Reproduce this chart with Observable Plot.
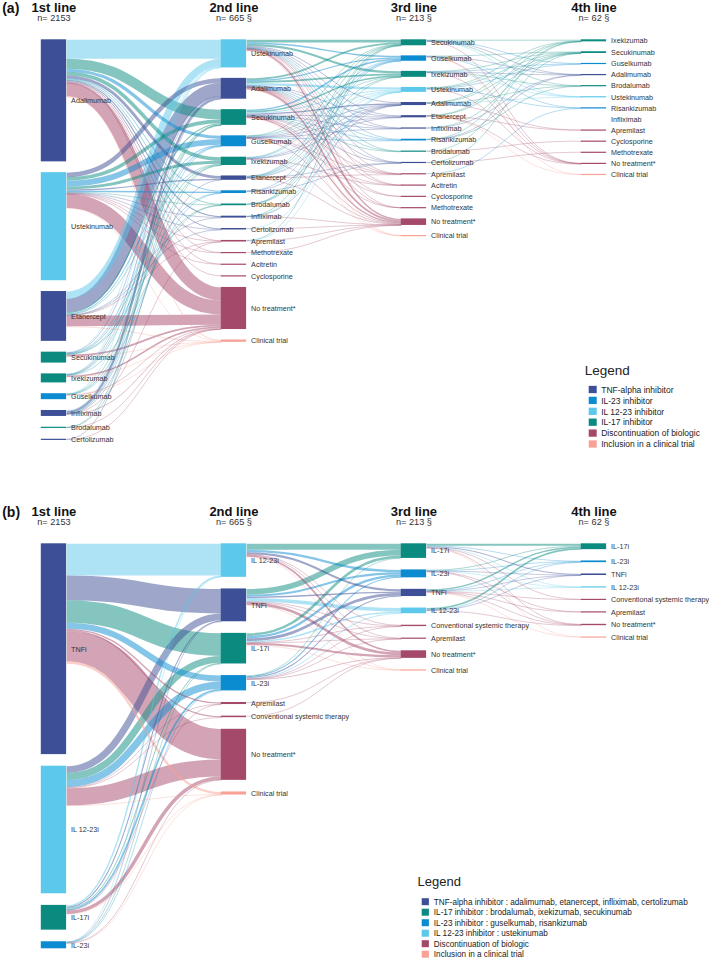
<!DOCTYPE html>
<html><head><meta charset="utf-8">
<script src="https://cdn.jsdelivr.net/npm/d3@7"></script>
<script src="https://cdn.jsdelivr.net/npm/@observablehq/plot@0.6"></script>
<style>html,body{margin:0;padding:0;background:#fff;}</style>
</head><body><div id="chart"></div>
<script>
// ---------- shared text ----------
const colTitles = ["1st line", "2nd line", "3rd line", "4th line"];
const colCounts = ["n= 2153", "n= 665 §", "n= 213 §", "n= 62 §"];
const panelLabels = ["(a)", "(b)"];

// ---------- classes & colours ----------
const classColors = {TNF: "#3d4f96", IL23: "#0b8bd0", IL1223: "#5cc8ec", IL17: "#0b8b80", DISC: "#a5496b", TRIAL: "#f8a295"};
const drugClass = {
  Adalimumab: "TNF", Etanercept: "TNF", Infliximab: "TNF", Certolizumab: "TNF", "TNFi": "TNF",
  Ustekinumab: "IL1223", "IL 12-23i": "IL1223",
  Guselkumab: "IL23", Risankizumab: "IL23", "IL-23i": "IL23",
  Secukinumab: "IL17", Ixekizumab: "IL17", Brodalumab: "IL17", "IL-17i": "IL17",
  "Clinical trial": "TRIAL"
};

// ---------- panel (a): individual drugs ----------
const a_col1 = ["Adalimumab", "Ustekinumab", "Etanercept", "Secukinumab", "Ixekizumab", "Guselkumab", "Infliximab", "Brodalumab", "Certolizumab"];
const a_col1_n = [838, 742, 342, 75, 62, 41, 41, 7, 5];
const a_col2 = ["Ustekinumab", "Adalimumab", "Secukinumab", "Guselkumab", "Ixekizumab", "Etanercept", "Risankizumab", "Brodalumab", "Infliximab", "Certolizumab", "Apremilast", "Methotrexate", "Acitretin", "Cyclosporine", "No treatment*", "Clinical trial"];
const a_col3 = ["Secukinumab", "Guselkumab", "Ixekizumab", "Ustekinumab", "Adalimumab", "Etanercept", "Infliximab", "Risankizumab", "Brodalumab", "Certolizumab", "Apremilast", "Acitretin", "Cyclosporine", "Methotrexate", "No treatment*", "Clinical trial"];
const a_col4 = ["Ixekizumab", "Secukinumab", "Guselkumab", "Adalimumab", "Brodalumab", "Ustekinumab", "Risankizumab", "Infliximab", "Apremilast", "Cyclosporine", "Methotrexate", "No treatment*", "Clinical trial"];

const a_links12 = [
  ["Adalimumab","Ustekinumab",130],["Adalimumab","Secukinumab",68],["Adalimumab","Guselkumab",22],["Adalimumab","Ixekizumab",25],["Adalimumab","Etanercept",20],["Adalimumab","Risankizumab",6],["Adalimumab","Brodalumab",5],["Adalimumab","Infliximab",7],["Adalimumab","Certolizumab",6],["Adalimumab","Apremilast",5],["Adalimumab","Methotrexate",2],["Adalimumab","Acitretin",1],["Adalimumab","Cyclosporine",1],["Adalimumab","No treatment*",90],["Adalimumab","Clinical trial",6],
  ["Ustekinumab","Adalimumab",30],["Ustekinumab","Secukinumab",25],["Ustekinumab","Guselkumab",40],["Ustekinumab","Ixekizumab",20],["Ustekinumab","Etanercept",8],["Ustekinumab","Risankizumab",10],["Ustekinumab","Brodalumab",3],["Ustekinumab","Infliximab",3],["Ustekinumab","Certolizumab",2],["Ustekinumab","Apremilast",3],["Ustekinumab","Methotrexate",2],["Ustekinumab","Acitretin",1],["Ustekinumab","No treatment*",95],["Ustekinumab","Clinical trial",2],
  ["Etanercept","Ustekinumab",50],["Etanercept","Adalimumab",92],["Etanercept","Secukinumab",8],["Etanercept","Guselkumab",6],["Etanercept","Ixekizumab",4],["Etanercept","Infliximab",3],["Etanercept","Certolizumab",2],["Etanercept","Apremilast",2],["Etanercept","No treatment*",72],["Etanercept","Clinical trial",5],
  ["Secukinumab","Ustekinumab",4],["Secukinumab","Adalimumab",2],["Secukinumab","Guselkumab",3],["Secukinumab","Ixekizumab",5],["Secukinumab","Risankizumab",1],["Secukinumab","Brodalumab",2],["Secukinumab","No treatment*",12],["Secukinumab","Clinical trial",1],
  ["Ixekizumab","Ustekinumab",3],["Ixekizumab","Adalimumab",2],["Ixekizumab","Secukinumab",3],["Ixekizumab","Guselkumab",2],["Ixekizumab","Brodalumab",2],["Ixekizumab","No treatment*",10],["Ixekizumab","Clinical trial",1],
  ["Guselkumab","Ustekinumab",2],["Guselkumab","Secukinumab",2],["Guselkumab","Ixekizumab",2],["Guselkumab","Risankizumab",2],["Guselkumab","No treatment*",3],["Guselkumab","Clinical trial",1],
  ["Infliximab","Ustekinumab",4],["Infliximab","Adalimumab",15],["Infliximab","Etanercept",2],["Infliximab","Secukinumab",1],["Infliximab","Guselkumab",2],["Infliximab","Apremilast",1],["Infliximab","No treatment*",5],
  ["Brodalumab","Secukinumab",1],["Brodalumab","Ixekizumab",1],["Brodalumab","No treatment*",1],
  ["Certolizumab","Adalimumab",2],["Certolizumab","No treatment*",1]
];
const a_links23 = [
  ["Ustekinumab","Secukinumab",18],["Ustekinumab","Ixekizumab",15],["Ustekinumab","Brodalumab",2],["Ustekinumab","Guselkumab",10],["Ustekinumab","Risankizumab",4],["Ustekinumab","Adalimumab",5],["Ustekinumab","Etanercept",4],["Ustekinumab","Infliximab",2],["Ustekinumab","Certolizumab",1],["Ustekinumab","Apremilast",2],["Ustekinumab","Acitretin",1],["Ustekinumab","Methotrexate",1],["Ustekinumab","No treatment*",10],["Ustekinumab","Clinical trial",1],
  ["Adalimumab","Secukinumab",12],["Adalimumab","Ixekizumab",12],["Adalimumab","Brodalumab",2],["Adalimumab","Guselkumab",8],["Adalimumab","Risankizumab",3],["Adalimumab","Etanercept",3],["Adalimumab","Infliximab",2],["Adalimumab","Certolizumab",2],["Adalimumab","Ustekinumab",15],["Adalimumab","Apremilast",2],["Adalimumab","Acitretin",1],["Adalimumab","Cyclosporine",1],["Adalimumab","Methotrexate",1],["Adalimumab","No treatment*",12],["Adalimumab","Clinical trial",1],
  ["Secukinumab","Ixekizumab",10],["Secukinumab","Brodalumab",2],["Secukinumab","Guselkumab",10],["Secukinumab","Risankizumab",3],["Secukinumab","Adalimumab",8],["Secukinumab","Etanercept",4],["Secukinumab","Infliximab",2],["Secukinumab","Certolizumab",2],["Secukinumab","Ustekinumab",6],["Secukinumab","Apremilast",1],["Secukinumab","Methotrexate",1],["Secukinumab","Cyclosporine",1],["Secukinumab","No treatment*",8],["Secukinumab","Clinical trial",1],
  ["Guselkumab","Secukinumab",2],["Guselkumab","Ixekizumab",1],["Guselkumab","Risankizumab",2],["Guselkumab","Adalimumab",2],["Guselkumab","Etanercept",2],["Guselkumab","Infliximab",1],["Guselkumab","Ustekinumab",5],["Guselkumab","Apremilast",1],["Guselkumab","Acitretin",1],["Guselkumab","No treatment*",4],
  ["Ixekizumab","Secukinumab",3],["Ixekizumab","Guselkumab",3],["Ixekizumab","Adalimumab",2],["Ixekizumab","Etanercept",2],["Ixekizumab","Ustekinumab",2],["Ixekizumab","Acitretin",1],["Ixekizumab","No treatment*",3],
  ["Etanercept","Secukinumab",3],["Etanercept","Ixekizumab",2],["Etanercept","Guselkumab",2],["Etanercept","Ustekinumab",3],["Etanercept","Adalimumab",2],["Etanercept","Certolizumab",1],["Etanercept","Apremilast",1],["Etanercept","No treatment*",3],
  ["Risankizumab","Guselkumab",3],["Risankizumab","Adalimumab",1],["Risankizumab","Certolizumab",1],
  ["Brodalumab","Secukinumab",1],["Brodalumab","Ixekizumab",1],["Brodalumab","Guselkumab",1],
  ["Infliximab","Secukinumab",1],["Infliximab","Ustekinumab",1],["Infliximab","Adalimumab",1],["Infliximab","No treatment*",1],
  ["Certolizumab","Ustekinumab",1],["Certolizumab","No treatment*",1],
  ["Apremilast","Secukinumab",1],["Apremilast","Ustekinumab",1],["Apremilast","No treatment*",2],
  ["Methotrexate","No treatment*",1]
];
const a_links34 = [
  ["Secukinumab","Ixekizumab",5],["Secukinumab","Guselkumab",2],["Secukinumab","Adalimumab",1],["Secukinumab","Brodalumab",2],["Secukinumab","Ustekinumab",1],["Secukinumab","No treatment*",1],
  ["Guselkumab","Secukinumab",3],["Guselkumab","Risankizumab",2],["Guselkumab","Adalimumab",1],["Guselkumab","Ustekinumab",1],["Guselkumab","No treatment*",1],["Guselkumab","Clinical trial",1],
  ["Ixekizumab","Guselkumab",3],["Ixekizumab","Secukinumab",2],["Ixekizumab","Adalimumab",2],["Ixekizumab","Brodalumab",1],["Ixekizumab","Ustekinumab",1],["Ixekizumab","No treatment*",1],
  ["Ustekinumab","Ixekizumab",4],["Ustekinumab","Guselkumab",3],["Ustekinumab","Secukinumab",2],["Ustekinumab","Risankizumab",1],["Ustekinumab","No treatment*",3],
  ["Adalimumab","Secukinumab",2],["Adalimumab","Ixekizumab",2],["Adalimumab","Ustekinumab",1],["Adalimumab","Brodalumab",1],["Adalimumab","Apremilast",1],
  ["Etanercept","Secukinumab",1],["Etanercept","Ixekizumab",1],["Etanercept","Apremilast",1],["Etanercept","No treatment*",1],["Etanercept","Clinical trial",1],
  ["Infliximab","Secukinumab",1],["Infliximab","Adalimumab",1],
  ["Risankizumab","Ixekizumab",1],["Risankizumab","Adalimumab",1],["Risankizumab","Brodalumab",1],
  ["Brodalumab","Ixekizumab",1],["Brodalumab","Cyclosporine",1],
  ["Certolizumab","Secukinumab",1],["Certolizumab","Methotrexate",1],
  ["Apremilast","Risankizumab",1]
];

// ---------- panel (b): drug classes ----------
const b_col1 = ["TNFi", "IL 12-23i", "IL-17i", "IL-23i"];
const b_col1_n = [1226, 742, 144, 41];
const b_col2 = ["IL 12-23i", "TNFi", "IL-17i", "IL-23i", "Apremilast", "Conventional systemic therapy", "No treatment*", "Clinical trial"];
const b_col3 = ["IL-17i", "IL-23i", "TNFi", "IL 12-23i", "Conventional systemic therapy", "Apremilast", "No treatment*", "Clinical trial"];
const b_col4 = ["IL-17i", "IL-23i", "TNFi", "IL 12-23i", "Conventional systemic therapy", "Apremilast", "No treatment*", "Clinical trial"];

const b_links12 = [
  ["TNFi","IL 12-23i",185],["TNFi","TNFi",143],["TNFi","IL-17i",131],["TNFi","IL-23i",35],["TNFi","Apremilast",8],["TNFi","Conventional systemic therapy",6],["TNFi","No treatment*",175],["TNFi","Clinical trial",14],
  ["IL 12-23i","TNFi",40],["IL 12-23i","IL-17i",40],["IL 12-23i","IL-23i",42],["IL 12-23i","Apremilast",3],["IL 12-23i","Conventional systemic therapy",3],["IL 12-23i","No treatment*",100],["IL 12-23i","Clinical trial",2],
  ["IL-17i","IL 12-23i",8],["IL-17i","TNFi",6],["IL-17i","IL-17i",5],["IL-17i","IL-23i",10],["IL-17i","Apremilast",1],["IL-17i","No treatment*",20],["IL-17i","Clinical trial",1],
  ["IL-23i","IL 12-23i",2],["IL-23i","TNFi",2],["IL-23i","IL-17i",2],["IL-23i","IL-23i",2],["IL-23i","No treatment*",2],["IL-23i","Clinical trial",1]
];
const b_links23 = [
  ["IL 12-23i","IL-17i",35],["IL 12-23i","IL-23i",14],["IL 12-23i","TNFi",12],["IL 12-23i","Conventional systemic therapy",2],["IL 12-23i","Apremilast",2],["IL 12-23i","No treatment*",10],["IL 12-23i","Clinical trial",1],
  ["TNFi","IL-17i",33],["TNFi","IL-23i",12],["TNFi","TNFi",8],["TNFi","IL 12-23i",20],["TNFi","Conventional systemic therapy",3],["TNFi","Apremilast",2],["TNFi","No treatment*",16],["TNFi","Clinical trial",1],
  ["IL-17i","IL-17i",15],["IL-17i","IL-23i",14],["IL-17i","TNFi",16],["IL-17i","IL 12-23i",8],["IL-17i","Conventional systemic therapy",2],["IL-17i","Apremilast",1],["IL-17i","No treatment*",12],["IL-17i","Clinical trial",1],
  ["IL-23i","IL-17i",2],["IL-23i","IL-23i",6],["IL-23i","TNFi",6],["IL-23i","IL 12-23i",5],["IL-23i","Conventional systemic therapy",1],["IL-23i","Apremilast",1],["IL-23i","No treatment*",4],
  ["Apremilast","No treatment*",1],["Conventional systemic therapy","No treatment*",1]
];
const b_links34 = [
  ["IL-17i","IL-17i",12],["IL-17i","IL-23i",3],["IL-17i","TNFi",5],["IL-17i","IL 12-23i",2],["IL-17i","Conventional systemic therapy",1],["IL-17i","No treatment*",2],["IL-17i","Clinical trial",1],
  ["IL-23i","IL-17i",4],["IL-23i","IL-23i",2],["IL-23i","TNFi",2],["IL-23i","IL 12-23i",1],["IL-23i","Apremilast",1],["IL-23i","No treatment*",1],
  ["TNFi","IL-17i",8],["TNFi","IL-23i",2],["TNFi","TNFi",1],["TNFi","IL 12-23i",2],["TNFi","Conventional systemic therapy",1],["TNFi","Apremilast",1],["TNFi","No treatment*",3],["TNFi","Clinical trial",1],
  ["IL 12-23i","IL-17i",10],["IL 12-23i","IL-23i",3],["IL 12-23i","TNFi",1],["IL 12-23i","No treatment*",2]
];

// ---------- legends ----------
const legendA_labels = ["TNF-alpha inhibitor", "IL-23 inhibitor", "IL 12-23 inhibitor", "IL-17 inhibitor", "Discontinuation of biologic", "Inclusion in a clinical trial"];
const legendA_classes = ["TNF", "IL23", "IL1223", "IL17", "DISC", "TRIAL"];
const legendB_labels = ["TNF-alpha inhibitor : adalimumab, etanercept, infliximab, certolizumab", "IL-17 inhibitor : brodalumab, ixekizumab, secukinumab", "IL-23 inhibitor : guselkumab, risankizumab", "IL 12-23 inhibitor : ustekinumab", "Discontinuation of biologic", "Inclusion in a clinical trial"];
const legendB_classes = ["TNF", "IL17", "IL23", "IL1223", "DISC", "TRIAL"];

// ---------- layout ----------
const FONT = '"Liberation Sans", Arial, Helvetica, sans-serif';
const MIN_H = 1.2;
const colorOf = name => classColors[drugClass[name] || "DISC"];

function buildPanel(P) {
  const nodes = new Map();
  P.cols.forEach((names, c) => names.forEach((name, i) =>
    nodes.set(c + "|" + name, {name, c, inV: 0, outV: 0, val: c === 0 ? P.firstValues[i] : 0, ins: [], outs: []})));
  const links = [];
  P.links.forEach((set, c) => set.forEach(([s, t, v]) => {
    const S = nodes.get(c + "|" + s), T = nodes.get((c + 1) + "|" + t);
    if (!S || !T) throw new Error("missing node " + s + " -> " + t);
    const l = {S, T, v};
    S.outs.push(l); T.ins.push(l); S.outV += v; T.inV += v; links.push(l);
  }));
  for (const n of nodes.values()) if (n.c > 0) n.val = Math.max(n.inV, n.outV);
  const k = (P.height - (P.cols[0].length - 1) * P.pad[0]) / d3.sum(P.firstValues);
  P.cols.forEach((names, c) => {
    let y = P.top;
    for (const name of names) {
      const n = nodes.get(c + "|" + name);
      n.h = n.val > 0 ? Math.max(n.val * k, MIN_H) : 0;
      n.x0 = P.left + c * P.step; n.x1 = n.x0 + P.nodeW;
      n.y0 = y; n.y1 = y + n.h;
      y += Math.max(n.h, MIN_H) + P.pad[c];
    }
  });
  for (const l of links) l.w = l.v * k;
  for (const n of nodes.values()) {
    n.outs.sort((a, b) => a.T.y0 - b.T.y0);
    let y = n.y0; for (const l of n.outs) { l.ys = y + l.w / 2; y += l.w; }
    n.ins.sort((a, b) => a.S.y0 - b.S.y0);
    y = n.y0; for (const l of n.ins) { l.yt = y + l.w / 2; y += l.w; }
  }
  const nodeArr = [...nodes.values()].map(n => ({...n, color: colorOf(n.name), ym: n.y0 + Math.max(n.h, MIN_H) / 2, lx: n.x1 + 4.5}));
  const linkArr = links.map(l => ({xs: l.S.x1, xt: l.T.x0, ys: l.ys, yt: l.yt, sw: Math.max(l.w, 0.6), w: l.w, color: colorOf(l.T.name)}))
    .sort((a, b) => b.w - a.w);
  const heads = colTitles.map((t, c) => ({t, n: colCounts[c], x: P.left + c * P.step + P.nodeW / 2, yt: P.top - 32.4, yn: P.top - 21.6}));
  return {nodes: nodeArr, links: linkArr, heads, label: {t: P.label, x: 1.7, y: P.top - 31.5}};
}

const panelA = buildPanel({label: panelLabels[0], cols: [a_col1, a_col2, a_col3, a_col4], firstValues: a_col1_n,
  links: [a_links12, a_links23, a_links34], top: 39.3, height: 400, pad: [10.8, 10.45, 10.1, 9.9], left: 40.8, step: 180, nodeW: 25.3});
const panelB = buildPanel({label: panelLabels[1], cols: [b_col1, b_col2, b_col3, b_col4], firstValues: b_col1_n,
  links: [b_links12, b_links23, b_links34], top: 543.3, height: 405, pad: [11.6, 11.6, 11.5, 11.3], left: 40.8, step: 180, nodeW: 25.3});

const legendA = {title: {x: 584.3, y: 370.2, fs: 13.5}, items: legendA_labels.map((t, i) => ({t, color: classColors[legendA_classes[i]], x: 588.7, w: 8, s: 7.3, tx: 600.7, y: 389.5 + i * 10.9})), fs: 8.5};
const legendB = {title: {x: 417, y: 881.8, fs: 13}, items: legendB_labels.map((t, i) => ({t, color: classColors[legendB_classes[i]], x: 421.7, w: 7.2, s: 7, tx: 433.3, y: 901.7 + i * 10.5})), fs: 8.2};

function panelMarks(p) {
  return [
    Plot.link(p.links, {x1: "xs", y1: "ys", x2: "xt", y2: "yt", curve: "bump-x", stroke: "color", strokeWidth: "sw", strokeOpacity: 0.5}),
    Plot.rect(p.nodes.filter(d => d.h > 0), {x1: "x0", x2: "x1", y1: "y0", y2: "y1", fill: "color"}),
    Plot.text(p.nodes, {x: "lx", y: "ym", text: "name", textAnchor: "start", fontSize: 7.2, fill: "#333"}),
    Plot.text(p.heads, {x: "x", y: "yt", text: "t", fontSize: 13, fontWeight: "bold", fill: "#111"}),
    Plot.text(p.heads, {x: "x", y: "yn", text: "n", fontSize: 9.2, fill: "#333"}),
    Plot.text([p.label], {x: "x", y: "y", text: "t", textAnchor: "start", fontSize: 14, fontWeight: "bold", fill: "#111"})
  ];
}
function legendMarks(L) {
  return [
    Plot.text([L.title], {x: "x", y: "y", text: () => "Legend", textAnchor: "start", fontSize: L.title.fs, fill: "#222"}),
    Plot.rect(L.items, {x1: "x", x2: d => d.x + d.w, y1: d => d.y - d.s / 2, y2: d => d.y + d.s / 2, fill: "color"}),
    Plot.text(L.items, {x: "tx", y: "y", text: "t", textAnchor: "start", fontSize: L.fs, fill: "#222"})
  ];
}

const chart = Plot.plot({
  width: 709, height: 960, margin: 0,
  x: {domain: [0, 709], range: [0, 709], axis: null},
  y: {domain: [0, 960], range: [0, 960], axis: null},
  color: {type: "identity"},
  style: {fontFamily: FONT, background: "white"},
  marks: [...panelMarks(panelA), ...panelMarks(panelB), ...legendMarks(legendA), ...legendMarks(legendB)]
});
document.getElementById("chart").append(chart);
</script></body></html>
